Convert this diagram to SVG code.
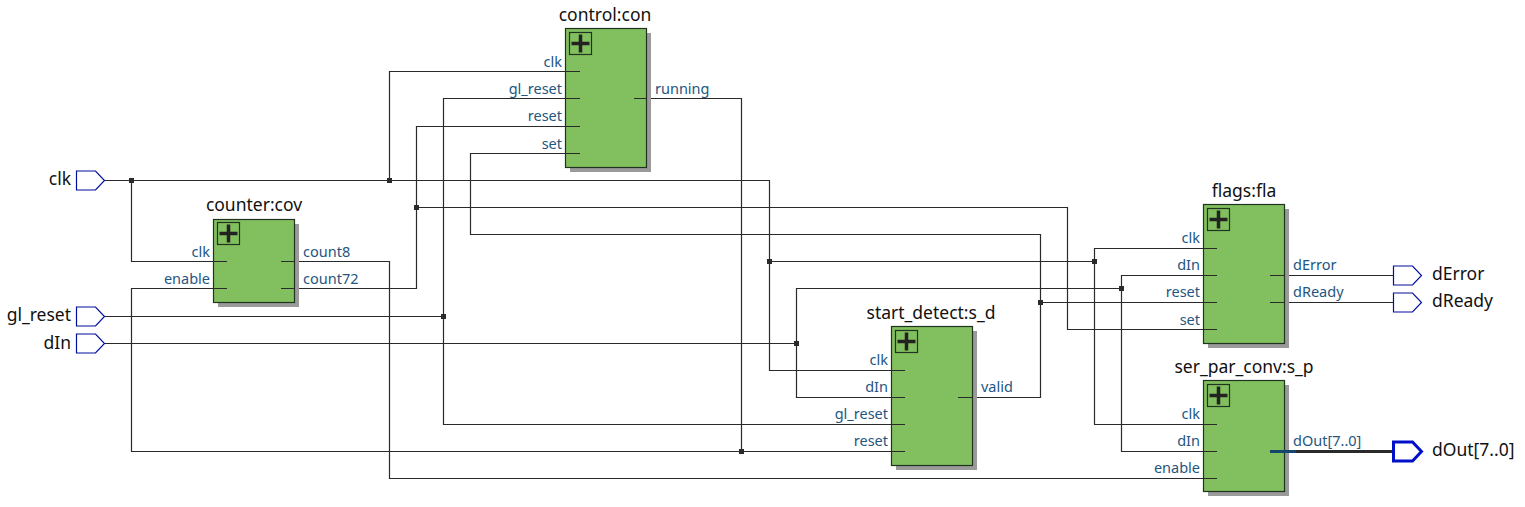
<svg xmlns="http://www.w3.org/2000/svg" width="1525" height="507" viewBox="0 0 1525 507">
<style>
text{font-family:"Noto Sans","Open Sans","Liberation Sans",sans-serif}
.t{font-size:17.5px;fill:#111}
.p{font-size:14.5px;fill:#24567f}
.e{text-anchor:end}
.m{text-anchor:middle}
.b{fill:#82bf5e;stroke:#1f3320;stroke-width:1.2}
.s{fill:#9a9a9a}
.x{fill:none;stroke:#1f3320;stroke-width:1.2}
.pl{fill:none;stroke:#222;stroke-width:3.500}
.w{fill:none;stroke:#2a2a2a;stroke-width:1.2}
.pin{fill:#fff;stroke:#000f9e;stroke-width:1.2}
.bus{fill:#fff;stroke:#000fc8;stroke-width:3}
.j{fill:#2a2a2a}
</style>
<defs>
<g id="plus"><rect class="x" width="22" height="22"/><path class="pl" d="M2 11H20M11 2V20"/></g>
<path id="pn" class="pin" d="M0 0H19L28 9.500 19 19H0Z"/>
<rect id="jn" class="j" x="-2.500" y="-2.500" width="5" height="5"/>
</defs>
<g id="connectors">
<path class="w" d="M105 180.500H769.500V370.500H905"/>
<path class="w" d="M131.500 180.500V261.500H227"/>
<path class="w" d="M389.500 180.500V71.500H580"/>
<path class="w" d="M769.500 261.500H1094.500M1217 248.500H1094.500V424.500H1217"/>
<path class="w" d="M105 316.500H443.500M580 98.500H443.500V424.500H905"/>
<path class="w" d="M105 343.500H796.500M905 397.500H796.500V288.500H1121.500M1217 275.500H1121.500V451.500H1217"/>
<path class="w" d="M281 261.500H389.500V478.500H1217"/>
<path class="w" d="M281 288.500H416.500V126.500H580"/>
<path class="w" d="M416.500 207.500H1067.500V329.500H1217"/>
<path class="w" d="M227 288.500H131.500V451.500H905"/>
<path class="w" d="M634 98.500H741.500V451.500"/>
<path class="w" d="M580 153.500H470.500V234.500H1040.500V397.500H958"/>
<path class="w" d="M1040.500 302.500H1217"/>
<path class="w" d="M1270 275.500H1393"/>
<path class="w" d="M1270 302.500H1393"/>
<path class="w" style="stroke-width:3" d="M1270 451.500H1393"/>
<use href="#jn" x="131.500" y="180.500"/><use href="#jn" x="389.500" y="180.500"/><use href="#jn" x="416.500" y="207.500"/><use href="#jn" x="443.500" y="316.500"/><use href="#jn" x="741.500" y="451.500"/><use href="#jn" x="769.500" y="261.500"/><use href="#jn" x="796.500" y="343.500"/><use href="#jn" x="1040.500" y="302.500"/><use href="#jn" x="1094.500" y="261.500"/><use href="#jn" x="1121.500" y="288.500"/>
</g>
<g id="pin-clk"><use href="#pn" x="76.500" y="171"/><text class="t e" x="71" y="185">clk</text></g>
<g id="pin-gl_reset"><use href="#pn" x="76.500" y="307"/><text class="t e" x="71" y="321">gl_reset</text></g>
<g id="pin-dIn"><use href="#pn" x="76.500" y="334"/><text class="t e" x="71" y="349">dIn</text></g>
<g id="pin-dError"><use href="#pn" x="1393.500" y="266"/><text class="t" x="1432" y="280">dError</text></g>
<g id="pin-dReady"><use href="#pn" x="1393.500" y="293"/><text class="t" x="1432" y="307">dReady</text></g>
<g id="pin-dOut"><path class="bus" d="M1393.500 442H1412.500L1421.500 451.500 1412.500 461H1393.500Z"/><text class="t" x="1432" y="456">dOut[7..0]</text></g>
<g id="control">
<rect class="s" x="570" y="33" width="81" height="139"/><rect class="b" x="565.500" y="28.500" width="81" height="139"/><use href="#plus" x="569.500" y="32.500"/>
<text class="t m" x="605" y="21">control:con</text>
<path class="w" d="M565 71.500H580M565 98.500H580M565 126.500H580M565 153.500H580M634 98.500H647"/>
<text class="p e" x="562" y="67">clk</text><text class="p e" x="562" y="94">gl_reset</text><text class="p e" x="562" y="121">reset</text><text class="p e" x="562" y="149">set</text><text class="p" x="655" y="94">running</text>
</g>
<g id="counter">
<rect class="s" x="218" y="224" width="81" height="83"/><rect class="b" x="213.500" y="219.500" width="81" height="83"/><use href="#plus" x="217.500" y="222.500"/>
<text class="t m" x="254" y="211">counter:cov</text>
<text class="p e" x="210" y="257">clk</text><text class="p e" x="210" y="284">enable</text><text class="p" x="303" y="257">count8</text><text class="p" x="303" y="284">count72</text>
</g>
<g id="start_detect">
<rect class="s" x="896" y="331" width="81" height="139"/><rect class="b" x="891.500" y="326.500" width="81" height="139"/><use href="#plus" x="895.500" y="330.500"/>
<text class="t m" x="931" y="319">start_detect:s_d</text>
<text class="p e" x="888" y="365">clk</text><text class="p e" x="888" y="392">dIn</text><text class="p e" x="888" y="419">gl_reset</text><text class="p e" x="888" y="446">reset</text><text class="p" x="981" y="392">valid</text>
</g>
<g id="flags">
<rect class="s" x="1208" y="209" width="81" height="139"/><rect class="b" x="1203.500" y="204.500" width="81" height="139"/><use href="#plus" x="1207.500" y="208.500"/>
<text class="t m" x="1244" y="197">flags:fla</text>
<text class="p e" x="1200" y="243">clk</text><text class="p e" x="1200" y="270">dIn</text><text class="p e" x="1200" y="297">reset</text><text class="p e" x="1200" y="325">set</text><text class="p" x="1293" y="270">dError</text><text class="p" x="1293" y="297">dReady</text>
</g>
<g id="ser_par_conv">
<rect class="s" x="1208" y="385" width="81" height="111"/><rect class="b" x="1203.500" y="380.500" width="81" height="111"/><use href="#plus" x="1207.500" y="384.500"/>
<text class="t m" x="1244" y="373">ser_par_conv:s_p</text>
<text class="p e" x="1200" y="419">clk</text><text class="p e" x="1200" y="446">dIn</text><text class="p e" x="1200" y="473">enable</text><text class="p" x="1293" y="446">dOut[7..0]</text>
</g>
<g id="stubs">
<path class="w" d="M213 261.500H227M213 288.500H227M281 261.500H295M281 288.500H295M891 370.500H905M891 397.500H905M891 424.500H905M891 451.500H905M958 397.500H973M1203 248.500H1217M1203 275.500H1217M1203 302.500H1217M1203 329.500H1217M1270 275.500H1285M1270 302.500H1285M1203 424.500H1217M1203 451.500H1217M1203 478.500H1217"/>
<path class="w" style="stroke-width:3;stroke:#14466b" d="M1270 451.500H1296"/>
</g>
</svg>
